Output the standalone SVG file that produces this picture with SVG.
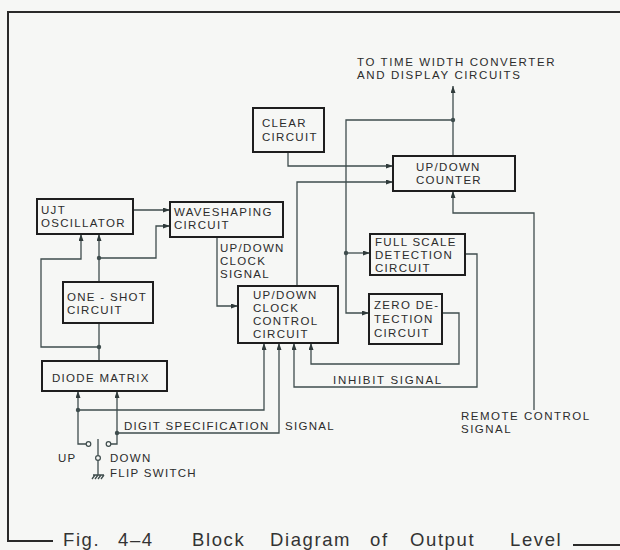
<svg xmlns="http://www.w3.org/2000/svg" width="620" height="550" viewBox="0 0 620 550">
<defs>
<style>
.box{fill:none;stroke:#1e1e1e;stroke-width:2}
.ln{fill:none;stroke:#3f4d4d;stroke-width:1.3}
.fr{fill:none;stroke:#2a2a2a;stroke-width:2}
text{font-family:"Liberation Sans",Arial,sans-serif;font-size:11.5px;letter-spacing:1.3px;fill:#2c2c2c}
.cap{font-size:18.5px;letter-spacing:1.6px;fill:#333}
.dot{fill:#3f4d4d}
.sw{fill:#f6f7f5;stroke:#3f4d4d;stroke-width:1.2}
</style>
<marker id="ar" viewBox="0 0 7 5" refX="7" refY="2.5" markerWidth="7" markerHeight="5" markerUnits="userSpaceOnUse" orient="auto">
<path d="M0,0 L7,2.5 L0,5 z" fill="#2f3a3a"/>
</marker>
</defs>
<rect width="620" height="550" fill="#f6f7f5"/>

<g id="frame">
<path class="fr" d="M620,12 H8 V541 H53"/>
<path class="fr" d="M573,545 H620"/>
</g>

<g id="caption">
<text class="cap" x="63" y="545.5">Fig.</text>
<text class="cap" x="118" y="545.5">4–4</text>
<text class="cap" x="192" y="545.5">Block</text>
<text class="cap" x="270" y="545.5">Diagram</text>
<text class="cap" x="370" y="545.5">of</text>
<text class="cap" x="410" y="545.5">Output</text>
<text class="cap" x="510" y="545.5">Level</text>
</g>

<g id="connectors">
<path class="ln" d="M133,210 H170" marker-end="url(#ar)"/>
<path class="ln" d="M99,258 H156 V226 H170" marker-end="url(#ar)"/>
<path class="ln" d="M99,282 V234" marker-end="url(#ar)"/>
<path class="ln" d="M99,347 H41 V259 H81 V234" marker-end="url(#ar)"/>
<path class="ln" d="M99,361 V323"/>
<path class="ln" d="M217,237 V306 H238" marker-end="url(#ar)"/>
<path class="ln" d="M297,286 V182 H393" marker-end="url(#ar)"/>
<path class="ln" d="M288,152 V166 H393" marker-end="url(#ar)"/>
<path class="ln" d="M453,156 V86" marker-end="url(#ar)"/>
<path class="ln" d="M453,120 H346 V313 H369" marker-end="url(#ar)"/>
<path class="ln" d="M346,253 H370" marker-end="url(#ar)"/>
<path class="ln" d="M534,410 V213 H453 V191" marker-end="url(#ar)"/>
<path class="ln" d="M465,254 H477 V387 H294 V343" marker-end="url(#ar)"/>
<path class="ln" d="M442,313 H459 V364 H311 V343" marker-end="url(#ar)"/>
<path class="ln" d="M78,410 H264 V343" marker-end="url(#ar)"/>
<path class="ln" d="M117,433 H279 V343" marker-end="url(#ar)"/>
<path class="ln" d="M86,444 H78 V391" marker-end="url(#ar)"/>
<path class="ln" d="M111,444 H117 V391" marker-end="url(#ar)"/>
<circle class="dot" cx="99" cy="258" r="2.2"/>
<circle class="dot" cx="99" cy="347" r="2.2"/>
<circle class="dot" cx="453" cy="120" r="2.2"/>
<circle class="dot" cx="346" cy="253" r="2.2"/>
<circle class="dot" cx="78" cy="410" r="2.2"/>
<circle class="dot" cx="117" cy="433" r="2.2"/>
</g>

<g id="flip-switch">
<circle class="sw" cx="88.5" cy="444" r="2.3"/>
<circle class="sw" cx="108.5" cy="444" r="2.3"/>
<path class="ln" d="M98,439 V455.5"/>
<circle class="sw" cx="98" cy="458" r="2.4"/>
<path class="ln" d="M98,460.5 V475 M93,475 H104 M95,475 L92,479 M98,475 L95,479 M101,475 L98,479 M104,475 L101,479"/>
<text x="58" y="462">UP</text>
<text x="110" y="462">DOWN</text>
<text x="110" y="477">FLIP SWITCH</text>
</g>

<g id="labels">
<text x="357" y="66" style="letter-spacing:1.6px">TO TIME WIDTH  CONVERTER</text>
<text x="357" y="79" style="letter-spacing:1.6px">AND DISPLAY CIRCUITS</text>
<text x="220" y="252">UP/DOWN</text>
<text x="220" y="265">CLOCK</text>
<text x="220" y="278">SIGNAL</text>
<text x="333" y="384" style="letter-spacing:1.7px">INHIBIT SIGNAL</text>
<text x="461" y="420" style="letter-spacing:1.5px">REMOTE CONTROL</text>
<text x="461" y="433" style="letter-spacing:1.5px">SIGNAL</text>
<text x="124" y="430">DIGIT SPECIFICATION</text>
<text x="285" y="430">SIGNAL</text>
</g>

<g id="ujt-oscillator">
<rect class="box" x="37" y="199" width="96" height="35"/>
<text x="41" y="214">UJT</text>
<text x="41" y="227">OSCILLATOR</text>
</g>
<g id="waveshaping">
<rect class="box" x="170" y="202" width="113" height="35"/>
<text x="174" y="216">WAVESHAPING</text>
<text x="174" y="229">CIRCUIT</text>
</g>
<g id="one-shot">
<rect class="box" x="63" y="282" width="90" height="41"/>
<text x="67" y="301">ONE - SHOT</text>
<text x="67" y="314">CIRCUIT</text>
</g>
<g id="clock-control">
<rect class="box" x="238" y="286" width="100" height="57"/>
<text x="253" y="299">UP/DOWN</text>
<text x="253" y="312">CLOCK</text>
<text x="253" y="325">CONTROL</text>
<text x="253" y="338">CIRCUIT</text>
</g>
<g id="clear-circuit">
<rect class="box" x="253" y="108" width="71" height="44"/>
<text x="262" y="127">CLEAR</text>
<text x="262" y="141">CIRCUIT</text>
</g>
<g id="counter">
<rect class="box" x="393" y="156" width="122" height="35"/>
<text x="416" y="171">UP/DOWN</text>
<text x="416" y="184">COUNTER</text>
</g>
<g id="full-scale">
<rect class="box" x="370" y="234" width="95" height="41"/>
<text x="375" y="246">FULL SCALE</text>
<text x="375" y="259">DETECTION</text>
<text x="375" y="272">CIRCUIT</text>
</g>
<g id="zero-detection">
<rect class="box" x="369" y="294" width="73" height="50"/>
<text x="374" y="309">ZERO DE-</text>
<text x="374" y="323">TECTION</text>
<text x="374" y="337">CIRCUIT</text>
</g>
<g id="diode-matrix">
<rect class="box" x="42" y="361" width="125" height="30"/>
<text x="52" y="382">DIODE MATRIX</text>
</g>
</svg>
